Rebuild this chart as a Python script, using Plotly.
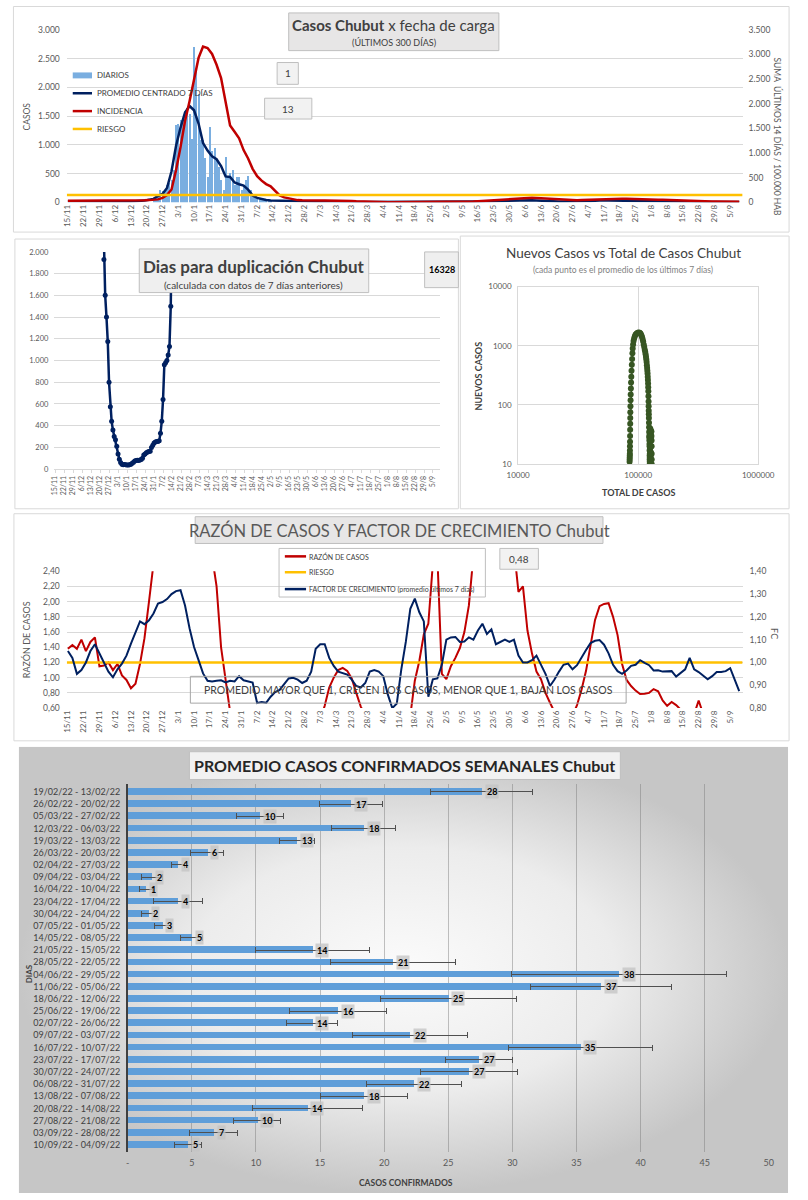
import plotly.graph_objects as go
import pandas as pd

W, H = 808, 1200
FONT = "Lato"
GRID = "#d9d9d9"
TICK = "#595959"
NAVY = "#002060"
RED = "#c00000"
ORANGE = "#ffc000"
BLUE = "#5b9bd5"
GREEN = "#375623"
DAY_MS = 86400000

# ---------------- DATA ----------------
START = "2021-11-15"            # first day of the 300-day window
RANGE_DATES = ["2021-11-14 12:00", "2022-09-10 12:00"]

# Panel 1: daily cases (bars), from 23/12/2021
DIARIOS_START = "2021-12-23"
diarios = [60, 90, 150, 218, 200, 220, 310, 340, 390, 560,
           1350, 1370, 1430, 1450, 1600, 1650, 1540, 1100, 2700, 2300,
           1880, 1080, 1080, 780, 450, 1320, 900, 950, 740, 620,
           390, 220, 790, 450, 510, 560, 300, 450, 450, 220,
           300, 390, 470, 220, 100, 75, 60, 55, 45, 40,
           35, 30, 30]

# Panel 1: centred 7-day average (every 2 days from START)
promedio_7d = [18, 17, 16, 15, 15, 14, 15, 16, 15, 14,
               13, 13, 14, 15, 16, 17, 20, 30, 45, 60,
               110, 145, 250, 540, 980, 1300, 1560, 1675, 1600, 1370,
               1030, 900, 800, 750, 630, 450, 440, 345, 315, 290,
               220, 120, 78, 55, 40, 30, 28, 26, 24, 18,
               16, 14, 11, 10, 12, 15, 18, 18, 16, 14,
               13, 12, 9, 6, 5, 5, 4, 4, 3, 3,
               2, 2, 1, 1, 1, 2, 3, 4, 4, 3,
               2, 2, 2, 3, 3, 3, 4, 5, 5, 6,
               9, 13, 15, 17, 20, 22, 25, 30, 36, 38,
               39, 38, 37, 36, 32, 27, 24, 20, 17, 16,
               15, 14, 14, 15, 18, 22, 25, 30, 34, 35,
               32, 29, 27, 27, 27, 27, 26, 24, 22, 22,
               21, 20, 18, 18, 17, 15, 14, 14, 13, 11,
               10, 9, 8, 7, 7, 6, 6, 5, 5, 5]

# Panel 1: 14-day incidence per 100.000 (every 2 days from START)
incidencia = [30, 30, 29, 28, 28, 27, 27, 28, 28, 27,
              26, 26, 26, 27, 28, 30, 35, 40, 45, 50,
              60, 90, 150, 260, 650, 1120, 1650, 2050, 2500, 2930,
              3160, 3130, 3010, 2790, 2520, 2000, 1560, 1430, 1300, 1060,
              890, 680, 530, 440, 370, 325, 235, 140, 100, 80,
              60, 45, 40, 36, 35, 35, 36, 37, 37, 36,
              34, 32, 30, 25, 20, 16, 12, 10, 8, 7,
              5, 4, 3, 3, 3, 3, 4, 5, 6, 6,
              6, 5, 5, 5, 6, 7, 8, 9, 10, 12,
              16, 22, 28, 35, 42, 48, 55, 63, 72, 80,
              86, 90, 92, 92, 90, 85, 78, 70, 62, 56,
              50, 46, 44, 44, 46, 50, 55, 60, 66, 72,
              76, 77, 76, 75, 74, 73, 72, 70, 66, 62,
              58, 54, 50, 46, 42, 38, 35, 32, 30, 28,
              25, 23, 21, 19, 17, 15, 13, 12, 11, 10]
RIESGO_INC = 150

# Panel 2 left: days to double (daily, from 22/12/2021)
DUP_START = "2021-12-22"
duplicacion = [2600, 1930, 1600, 1400, 1175, 800, 575, 440, 360, 300,
               270, 210, 140, 90, 60, 45, 40, 42, 40, 38,
               38, 40, 45, 55, 62, 75, 80, 82, 80, 85,
               88, 100, 130, 140, 150, 158, 162, 165, 200, 220,
               240, 250, 255, 255, 260, 330, 440, 640, 960, 980,
               1000, 1050, 1130, 1500, 2400]
ULTIMA_DUP = "16328"

# Panel 2 right: total cases vs new cases (7-day average)
total_casos = [84800, 84900, 85000, 85100, 85200, 85300, 85400, 85500, 85600, 85700,
               85800, 85900, 86000, 86200, 86400, 86600, 86900, 87200, 87600, 88000,
               88500, 89000, 89500, 90000, 90700, 91500, 92500, 93800, 95200, 97000,
               99000, 101000, 103000, 104500, 106000, 107500, 108800, 110000, 111200, 112300,
               113400, 114400, 115300, 116100, 116800, 117500, 118100, 118700, 119200, 119700,
               120100, 120500, 120900, 121200, 121500, 121800, 122000, 122200, 122400, 122600,
               122800, 123000, 123200, 123400, 123600, 123800, 124000, 124200, 124400, 124500,
               124600, 124700, 124800, 124850, 124900, 125000, 125100, 125300, 125500, 125800,
               126100, 126400, 126600, 126800, 127000, 127200, 127400, 127600, 127800, 128100,
               128400, 128700, 129000, 129200, 129400, 129500, 129600, 129700]
nuevos_casos = [11, 12, 13, 14, 15, 17, 20, 24, 30, 38,
                48, 60, 75, 95, 120, 150, 190, 240, 300, 380,
                480, 600, 750, 900, 1050, 1200, 1330, 1450, 1550, 1620,
                1660, 1680, 1660, 1610, 1520, 1420, 1300, 1180, 1050, 950,
                860, 790, 720, 650, 590, 530, 470, 420, 380, 340,
                300, 265, 230, 200, 170, 140, 115, 95, 80, 70,
                60, 50, 42, 35, 30, 28, 25, 22, 20, 17,
                14, 12, 10, 11, 13, 15, 18, 25, 32, 38,
                40, 38, 30, 25, 20, 16, 14, 15, 20, 28,
                35, 36, 30, 25, 20, 15, 12, 10]

# Panel 3: case ratio (left axis) and growth factor (right axis), every 2 days
razon = [1.38, 1.43, 1.38, 1.50, 1.35, 1.47, 1.53, 1.15, 1.16, 1.20,
         1.10, 1.18, 1.03, 0.97, 0.86, 0.92, 1.18, 1.52, 2.00, 2.80,
         3.2, 3.6, 4.0, 4.5, 4.8, 5.0, 4.8, 4.5, 4.2, 3.8,
         3.5, 3.2, 2.6, 2.2, 1.4, 0.95, 0.55, 0.45, 0.44, 0.46,
         0.45, 0.43, 0.45, 0.47, 0.45, 0.44, 0.45, 0.46, 0.45, 0.44,
         0.45, 0.46, 0.45, 0.44, 0.45, 0.46, 0.45, 0.63, 0.87, 1.00,
         1.10, 1.13, 1.09, 0.99, 0.80, 0.62, 0.50, 0.45, 0.45, 0.44,
         0.45, 0.46, 0.45, 0.44, 0.45, 0.46, 0.50, 0.96, 1.22, 1.57,
         1.71, 2.50, 2.60, 1.05, 0.98, 1.15, 1.26, 1.39, 1.60, 1.95,
         2.60, 3.0, 3.2, 3.3, 3.4, 3.3, 3.2, 3.0, 2.9, 2.7,
         2.13, 2.20, 1.62, 1.32, 1.08, 0.98, 0.80, 0.67, 0.55, 0.50,
         0.45, 0.45, 0.50, 0.64, 0.84, 1.09, 1.43, 1.76, 1.94, 1.97,
         1.98, 1.80, 1.56, 1.18, 0.97, 0.89, 0.83, 0.785, 0.79, 0.80,
         0.85, 0.82, 0.70, 0.63, 0.68, 0.64, 0.58, 0.50, 0.48, 0.52,
         0.70, 0.52, 0.48, 0.45, 0.46, 0.48, 0.48]
razon = razon[:150]

factor = [1.05, 1.02, 0.95, 0.967, 1.0, 1.05, 1.08, 1.04, 0.995, 0.96,
          0.935, 0.97, 0.995, 1.03, 1.083, 1.13, 1.18, 1.168, 1.185, 1.215,
          1.258, 1.265, 1.278, 1.30, 1.313, 1.317, 1.25, 1.15, 1.068, 1.01,
          0.952, 0.92, 0.917, 0.92, 0.922, 0.913, 0.92, 0.917, 0.94, 0.922,
          0.917, 0.912, 0.822, 0.827, 0.823, 0.85, 0.87, 0.88, 0.905, 0.93,
          0.933, 0.925, 0.91, 0.92, 0.96, 1.06, 1.08, 1.08, 1.02, 0.985,
          0.96, 0.952, 0.947, 0.925, 0.897, 0.89, 0.91, 0.96, 0.967, 0.96,
          0.94, 0.86, 0.80, 0.82, 0.97, 1.09, 1.235, 1.28, 1.22, 1.18,
          0.85, 0.926, 0.93, 0.99, 1.10, 1.11, 1.112, 1.09, 1.092, 1.11,
          1.10, 1.14, 1.17, 1.125, 1.145, 1.08, 1.09, 1.10, 1.09, 1.10,
          1.03, 1.0, 1.0, 1.01, 1.03, 0.99, 0.95, 0.897, 0.925, 0.96,
          0.99, 0.995, 0.97, 0.988, 1.025, 1.055, 1.085, 1.095, 1.098, 1.078,
          1.04, 0.99, 0.962, 0.95, 0.965, 0.985, 0.99, 1.01, 0.998, 0.988,
          0.965, 0.966, 0.96, 0.962, 0.962, 0.938, 0.952, 0.97, 1.02, 0.97,
          0.958, 0.94, 0.926, 0.94, 0.958, 0.958, 0.962, 0.975, 0.92, 0.874]
RIESGO_RAZON = 1.2
ULTIMA_RAZON = "0,48"

# Panel 5: weekly average confirmed cases
semanas = ["19/02/22 - 13/02/22", "26/02/22 - 20/02/22", "05/03/22 - 27/02/22",
           "12/03/22 - 06/03/22", "19/03/22 - 13/03/22", "26/03/22 - 20/03/22",
           "02/04/22 - 27/03/22", "09/04/22 - 03/04/22", "16/04/22 - 10/04/22",
           "23/04/22 - 17/04/22", "30/04/22 - 24/04/22", "07/05/22 - 01/05/22",
           "14/05/22 - 08/05/22", "21/05/22 - 15/05/22", "28/05/22 - 22/05/22",
           "04/06/22 - 29/05/22", "11/06/22 - 05/06/22", "18/06/22 - 12/06/22",
           "25/06/22 - 19/06/22", "02/07/22 - 26/06/22", "09/07/22 - 03/07/22",
           "16/07/22 - 10/07/22", "23/07/22 - 17/07/22", "30/07/22 - 24/07/22",
           "06/08/22 - 31/07/22", "13/08/22 - 07/08/22", "20/08/22 - 14/08/22",
           "27/08/22 - 21/08/22", "03/09/22 - 28/08/22", "10/09/22 - 04/09/22"]
promedio_sem = [27.6, 17.4, 10.3, 18.4, 13.2, 6.2, 3.9, 1.9, 1.4, 3.9,
                1.6, 2.7, 5.0, 14.4, 20.7, 38.3, 36.9, 25.0, 16.4, 14.4,
                22.0, 35.3, 27.4, 26.6, 22.3, 18.4, 14.0, 10.1, 6.7, 4.7]
desvio_sem = [4.0, 2.45, 1.85, 2.5, 1.35, 1.3, 0.5, 0.8, 0.5, 1.9,
              0.5, 0.6, 0.85, 4.45, 4.9, 8.4, 5.5, 5.3, 3.8, 2.0,
              4.5, 5.6, 2.6, 3.8, 3.7, 3.4, 4.3, 1.85, 1.9, 1.05]
EJE_BARRAS = list(range(0, 55, 5))
EJE_BARRAS_TXT = ["-"] + [str(v) for v in EJE_BARRAS[1:]]


# ---------------- helpers ----------------
def X(p):
    return p / W


def Y(p):
    return 1 - p / H


shapes = []
annotations = []


def box(x0, y0, x1, y1, fill="rgba(0,0,0,0)", line="#bfbfbf", width=1, layer="above"):
    shapes.append(dict(type="rect", xref="paper", yref="paper",
                       x0=X(x0), x1=X(x1), y0=Y(y1), y1=Y(y0),
                       fillcolor=fill, line=dict(color=line, width=width), layer=layer))


def seg(x0, y0, x1, y1, color, width=2.5):
    shapes.append(dict(type="line", xref="paper", yref="paper",
                       x0=X(x0), x1=X(x1), y0=Y(y0), y1=Y(y1),
                       line=dict(color=color, width=width)))


def txt(x, y, s, size, color="#404040", xanchor="center", angle=0, **kw):
    annotations.append(dict(xref="paper", yref="paper", x=X(x), y=Y(y), text=s,
                            showarrow=False, xanchor=xanchor, yanchor="middle",
                            textangle=angle, font=dict(size=size, color=color, family=FONT),
                            **kw))


def date_axis(domain, anchor, size):
    return dict(domain=domain, anchor=anchor, type="date", range=RANGE_DATES,
                tick0=START, dtick=7 * DAY_MS, tickformat="%-d/%-m", tickangle=-90,
                tickfont=dict(size=size, color=TICK), showgrid=False, zeroline=False)


grid2 = pd.date_range(START, periods=len(factor), freq="2D")
fig = go.Figure()

# ---- Panel 1 ----
fig.add_trace(go.Bar(x=pd.date_range(DIARIOS_START, periods=len(diarios), freq="D"), y=diarios,
                     marker=dict(color="#7aaee0", line=dict(width=0)), width=0.5 * DAY_MS,
                     xaxis="x", yaxis="y", name="DIARIOS"))
fig.add_trace(go.Scatter(x=pd.date_range(START, periods=len(promedio_7d), freq="2D"), y=promedio_7d,
                         mode="lines", line=dict(color=NAVY, width=2.5), xaxis="x", yaxis="y",
                         name="PROMEDIO CENTRADO 7 DÍAS"))
fig.add_trace(go.Scatter(x=pd.date_range(START, periods=len(incidencia), freq="2D"), y=incidencia,
                         mode="lines", line=dict(color=RED, width=2.5), xaxis="x", yaxis="y2",
                         name="INCIDENCIA"))
fig.add_trace(go.Scatter(x=RANGE_DATES, y=[RIESGO_INC, RIESGO_INC], mode="lines",
                         line=dict(color=ORANGE, width=2.5), xaxis="x", yaxis="y2", name="RIESGO"))

# ---- Panel 2 left ----
fig.add_trace(go.Scatter(x=pd.date_range(DUP_START, periods=len(duplicacion), freq="D"), y=duplicacion,
                         mode="lines+markers", line=dict(color=NAVY, width=2.5),
                         marker=dict(color=NAVY, size=5), xaxis="x2", yaxis="y3"))

# ---- Panel 2 right ----
fig.add_trace(go.Scatter(x=total_casos, y=nuevos_casos, mode="lines+markers",
                         line=dict(color=GREEN, width=1.5), marker=dict(color=GREEN, size=6),
                         xaxis="x3", yaxis="y4"))

# ---- Panel 3 ----
fig.add_trace(go.Scatter(x=grid2, y=razon, mode="lines", line=dict(color=RED, width=2),
                         xaxis="x4", yaxis="y5"))
fig.add_trace(go.Scatter(x=RANGE_DATES, y=[RIESGO_RAZON, RIESGO_RAZON], mode="lines",
                         line=dict(color=ORANGE, width=2.5), xaxis="x4", yaxis="y5"))
fig.add_trace(go.Scatter(x=grid2, y=factor, mode="lines", line=dict(color=NAVY, width=2),
                         xaxis="x4", yaxis="y6"))

# ---- Panel 5 background (radial gradient) ----
fig.add_trace(go.Scatter(x=[0, 1, 1, 0, 0], y=[0, 0, 1, 1, 0], mode="lines", fill="toself",
                         line=dict(width=0, color="rgba(0,0,0,0)"),
                         fillgradient=dict(type="radial",
                                           colorscale=[[0, "#fbfbfb"], [0.55, "#ececec"], [1, "#c6c6c6"]]),
                         xaxis="x5", yaxis="y7", hoverinfo="skip"))

# ---- Panel 5 bars ----
fig.add_trace(go.Bar(x=promedio_sem, y=semanas, orientation="h", width=0.55,
                     marker=dict(color="#5f9ed9", line=dict(width=0)),
                     error_x=dict(type="data", array=desvio_sem, color="#505050", thickness=1, width=3),
                     xaxis="x6", yaxis="y8"))
for s, v in zip(semanas, promedio_sem):
    annotations.append(dict(xref="x6", yref="y8", x=v, y=s, text="<b>%d</b>" % round(v),
                            showarrow=False, xanchor="left", xshift=3,
                            bgcolor="rgba(195,195,195,0.75)", borderpad=1,
                            font=dict(size=9, color="#000000", family=FONT)))

# ---------------- decorations ----------------
box(1.5, 1.5, 806, 229, line=GRID, layer="below")
box(3, 236, 463, 508, line=GRID, layer="below")
box(465, 233, 806, 508, line=GRID, layer="below")
box(2, 513, 806, 742, line=GRID, layer="below")

# Panel 1 texts
box(287, 8, 505, 46, fill="#e7e6e6")
txt(396, 20, "<b>Casos Chubut</b> x fecha de carga", 15)
txt(396, 38, "(ÚLTIMOS 300 DÍAS)", 9)
box(275, 58, 297, 80, fill="#f2f2f2")
txt(286, 69, "1", 10)
box(262, 94, 311, 115, fill="#f2f2f2")
txt(286.5, 104.5, "13", 10)
shapes.append(dict(type="rect", xref="paper", yref="paper", x0=X(63), x1=X(83), y0=Y(74), y1=Y(68),
                   fillcolor="#7aaee0", line=dict(width=0)))
seg(63, 89, 83, 89, NAVY)
seg(63, 107, 83, 107, RED)
seg(63, 125, 83, 125, ORANGE)
for yy, s in [(71, "DIARIOS"), (89, "PROMEDIO CENTRADO 7 DÍAS"), (107, "INCIDENCIA"), (125, "RIESGO")]:
    txt(86, yy, s, 8, xanchor="left")
txt(16, 112, "CASOS", 8.5, color=TICK, angle=-90)
txt(794, 133, "SUMA  ÚLTIMOS 14 DÍAS / 100.000 HAB", 8.5, color=TICK, angle=90)

# Panel 2 left texts
box(132, 246, 370, 290, fill="#efefef")
txt(251, 264, "<b>Dias para duplicación Chubut</b>", 17)
txt(251, 282, "(calculada con datos de 7 días anteriores)", 10)
box(428, 249, 463, 285, fill="#efefef")
txt(445.5, 267, "<b>%s</b>" % ULTIMA_DUP, 9, color="#000000")

# Panel 2 right texts
txt(634, 250, "Nuevos Casos vs Total de Casos Chubut", 13.5, color="#404040")
txt(634, 267, "(cada punto es el promedio de los últimos 7 días)", 8.5, color="#7f7f7f")
txt(484, 374, "<b>NUEVOS CASOS</b>", 9, angle=-90)
txt(650, 492, "<b>TOTAL DE CASOS</b>", 9)

# Panel 3 texts
box(190, 516, 613, 543, fill="#e7e6e6")
txt(401.5, 530, "RAZÓN DE CASOS Y FACTOR DE CRECIMIENTO Chubut", 16.5, color=TICK)
box(277, 548, 491, 597)
seg(283, 556, 305, 556, RED)
seg(283, 572, 305, 572, ORANGE)
seg(283, 589, 305, 589, NAVY)
for yy, s in [(556, "RAZÓN DE CASOS"), (572, "RIESGO"),
              (589, "FACTOR DE CRECIMIENTO (promedio últimos 7 días)")]:
    txt(306, yy, s, 7, xanchor="left")
box(506, 548, 546, 569, fill="#f2f2f2")
txt(526, 558.5, ULTIMA_RAZON, 10)
box(185, 677, 637, 704, line="#a6a6a6")
txt(411, 690.5, "PROMEDIO MAYOR QUE 1, CRECEN LOS CASOS, MENOR QUE 1, BAJAN LOS CASOS", 10.5)
txt(15, 640, "RAZÓN DE CASOS", 9, color=TICK, angle=-90)
txt(791, 634, "FC", 9, color=TICK, angle=90)

# Panel 5 texts
box(184, 753, 631, 781, fill="rgba(248,248,248,0.85)")
txt(407.5, 767, "<b>PROMEDIO CASOS CONFIRMADOS SEMANALES Chubut</b>", 16, color="#262626")
txt(18, 977, "<b>DIAS</b>", 8, angle=-90)
txt(409, 1188, "<b>CASOS CONFIRMADOS</b>", 8.5)

# ---------------- layout ----------------
fig.update_layout(
    width=W, height=H, margin=dict(l=0, r=0, t=0, b=0),
    paper_bgcolor="white", plot_bgcolor="rgba(0,0,0,0)",
    font=dict(family=FONT, color=TICK), separators=",.",
    showlegend=False, shapes=shapes, annotations=annotations, bargap=0,
    xaxis=date_axis([X(56.8), X(757.8)], "y", 8),
    yaxis=dict(domain=[Y(199), Y(25)], anchor="x", range=[0, 3000], dtick=500, tickformat=",d",
               gridcolor=GRID, zeroline=False, tickfont=dict(size=8.5, color=TICK), ticklabelstandoff=6),
    yaxis2=dict(overlaying="y", side="right", anchor="x", range=[0, 3500], dtick=500, tickformat=",d",
                showgrid=False, zeroline=False, tickfont=dict(size=8.5, color=TICK), ticklabelstandoff=5),
    xaxis2=dict(date_axis([X(44), X(444)], "y3", 7), showline=True, linecolor=GRID,
                ticks="outside", ticklen=3, tickcolor=GRID),
    yaxis3=dict(domain=[Y(468), Y(249)], anchor="x2", range=[0, 2000], dtick=200, tickformat=",d",
                gridcolor=GRID, zeroline=False, tickfont=dict(size=7.5, color=TICK), ticklabelstandoff=5),
    xaxis3=dict(domain=[X(525), X(774)], anchor="y4", type="log", range=[4, 6],
                tickvals=[1e4, 1e5, 1e6], ticktext=["10000", "100000", "1000000"],
                gridcolor=GRID, showline=True, mirror=True, linecolor=GRID, zeroline=False,
                tickfont=dict(size=8, color=TICK), ticklabelstandoff=3),
    yaxis4=dict(domain=[Y(463), Y(284)], anchor="x3", type="log", range=[1, 4],
                tickvals=[10, 100, 1000, 10000], ticktext=["10", "100", "1000", "10000"],
                gridcolor=GRID, showline=True, mirror=True, linecolor=GRID, zeroline=False,
                tickfont=dict(size=8, color=TICK), ticklabelstandoff=4),
    xaxis4=date_axis([X(56.8), X(757.8)], "y5", 8),
    yaxis5=dict(domain=[Y(709), Y(571)], anchor="x4", range=[0.6, 2.4], dtick=0.2, tickformat=".2f",
                gridcolor=GRID, zeroline=False, tickfont=dict(size=8.5, color=TICK), ticklabelstandoff=6),
    yaxis6=dict(overlaying="y5", side="right", anchor="x4", range=[0.8, 1.4], dtick=0.1, tickformat=".2f",
                showgrid=False, zeroline=False, tickfont=dict(size=8.5, color=TICK), ticklabelstandoff=6),
    xaxis5=dict(domain=[X(7), X(805)], anchor="y7", range=[0, 1], visible=False, fixedrange=True),
    yaxis7=dict(domain=[Y(1198), Y(748)], anchor="x5", range=[0, 1], visible=False, fixedrange=True),
    xaxis6=dict(domain=[X(120), X(785)], anchor="y8", range=[0, 50], tickvals=EJE_BARRAS,
                ticktext=EJE_BARRAS_TXT, gridcolor="rgba(120,120,120,0.45)", zeroline=False,
                tickfont=dict(size=9, color=TICK), ticklabelstandoff=4),
    yaxis8=dict(domain=[Y(1157), Y(786)], anchor="x6", type="category", autorange="reversed",
                showline=True, linecolor="#404040", linewidth=1.5, showgrid=False,
                tickfont=dict(size=9, color="#404040"), ticks="outside", ticklen=4,
                tickcolor="rgba(0,0,0,0)"),
)

# page without the default 8px body margin, so the 808x1200 figure fills the window exactly
fig.write_html("out.html", config={"displayModeBar": False},
               post_script="document.body.style.margin='0px';"
                           "document.body.style.overflow='hidden';"
                           "document.documentElement.style.overflow='hidden';")
